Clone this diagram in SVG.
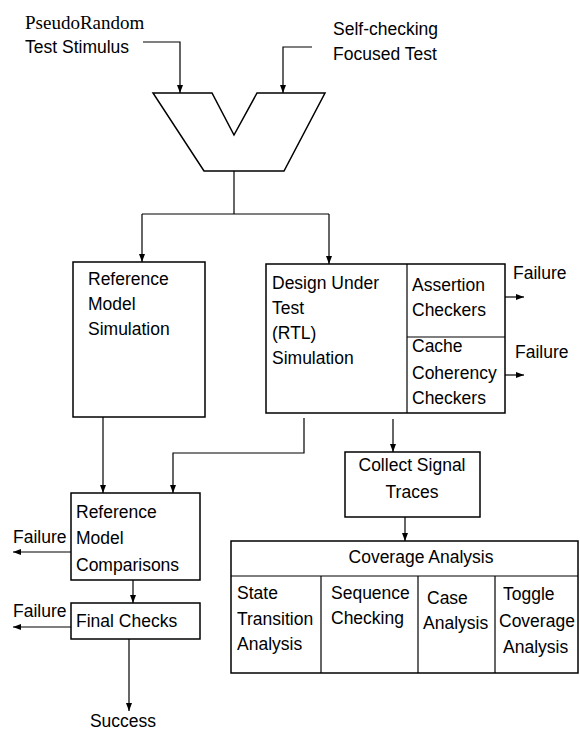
<svg xmlns="http://www.w3.org/2000/svg" width="580" height="733" viewBox="0 0 580 733">
<style>
  text { font-family: "Liberation Sans", Arial, sans-serif; font-size: 17.5px; fill: #000; }
  text.serif { font-family: "Liberation Serif", "Times New Roman", serif; font-size: 19px; }
  .box { fill: #fff; stroke: #000; stroke-width: 1.5; }
  .ln { fill: none; stroke: #000; stroke-width: 1.2; }
  .arr { fill: none; stroke: #000; stroke-width: 1.2; marker-end: url(#ah); }
</style>
<defs>
  <marker id="ah" markerUnits="userSpaceOnUse" markerWidth="9" markerHeight="7" refX="8" refY="3" orient="auto">
    <path d="M0,0 L8,3 L0,6 z" fill="#000"/>
  </marker>
</defs>
<rect width="580" height="733" fill="#fff"/>

<g id="connectors">
  <polyline class="arr" points="143,42 180,42 180,93"/>
  <polyline class="arr" points="312,47 283,47 283,93"/>
  <line class="ln" x1="234" y1="171" x2="234" y2="214"/>
  <polyline class="arr" points="142,214 142,262"/>
  <line class="ln" x1="142" y1="214" x2="329" y2="214"/>
  <line class="arr" x1="329" y1="214" x2="329" y2="264"/>
  <line class="arr" x1="505" y1="297" x2="524" y2="297"/>
  <line class="arr" x1="505" y1="375" x2="524" y2="375"/>
  <line class="arr" x1="103" y1="417" x2="103" y2="493"/>
  <polyline class="arr" points="304,418 304,453 173,453 173,493"/>
  <line class="arr" x1="393" y1="419" x2="393" y2="452"/>
  <line class="arr" x1="405" y1="517" x2="405" y2="541"/>
  <line class="arr" x1="71" y1="552" x2="13" y2="552"/>
  <line class="arr" x1="133" y1="580" x2="133" y2="603"/>
  <line class="arr" x1="71" y1="627" x2="13" y2="627"/>
  <line class="arr" x1="129" y1="639" x2="129" y2="711"/>
</g>

<g id="inputs">
  <text class="serif" x="25" y="29">PseudoRandom</text>
  <text x="25" y="53">Test Stimulus</text>
  <text x="333" y="35">Self-checking</text>
  <text x="333" y="60">Focused Test</text>
</g>

<g id="mux">
  <polygon class="box" points="153,93 212,93 234,135 257,93 325,93 284,171 204,171"/>
</g>

<g id="ref-model-sim">
  <rect class="box" x="73" y="262" width="132" height="155"/>
  <text x="88" y="285">Reference</text>
  <text x="88" y="310">Model</text>
  <text x="88" y="335">Simulation</text>
</g>

<g id="dut">
  <rect class="box" x="266" y="264" width="239" height="149"/>
  <line class="ln" x1="407" y1="264" x2="407" y2="413"/>
  <line class="ln" x1="407" y1="337" x2="505" y2="337"/>
  <text x="272" y="289">Design Under</text>
  <text x="272" y="314">Test</text>
  <text x="272" y="339">(RTL)</text>
  <text x="272" y="364">Simulation</text>
  <text x="412" y="291">Assertion</text>
  <text x="412" y="316">Checkers</text>
  <text x="412" y="352">Cache</text>
  <text x="412" y="379">Coherency</text>
  <text x="412" y="404">Checkers</text>
</g>

<g id="failure-labels-right">
  <text x="513" y="279">Failure</text>
  <text x="515" y="358">Failure</text>
</g>

<g id="collect-traces">
  <rect class="box" x="345" y="452" width="135" height="65"/>
  <text x="412" y="471" text-anchor="middle">Collect Signal</text>
  <text x="412" y="498" text-anchor="middle">Traces</text>
</g>

<g id="coverage">
  <rect class="box" x="231" y="541" width="347" height="132"/>
  <line class="ln" x1="231" y1="576" x2="578" y2="576"/>
  <line class="ln" x1="321" y1="576" x2="321" y2="673"/>
  <line class="ln" x1="418" y1="576" x2="418" y2="673"/>
  <line class="ln" x1="495" y1="576" x2="495" y2="673"/>
  <text x="421" y="563" text-anchor="middle">Coverage Analysis</text>
  <text x="237" y="599">State</text>
  <text x="237" y="625">Transition</text>
  <text x="237" y="650">Analysis</text>
  <text x="331" y="599">Sequence</text>
  <text x="331" y="624">Checking</text>
  <text x="427" y="604">Case</text>
  <text x="423" y="629">Analysis</text>
  <text x="503" y="600">Toggle</text>
  <text x="499" y="627">Coverage</text>
  <text x="503" y="653">Analysis</text>
</g>

<g id="ref-model-comp">
  <rect class="box" x="71" y="493" width="129" height="87"/>
  <text x="76" y="518">Reference</text>
  <text x="76" y="544">Model</text>
  <text x="76" y="571">Comparisons</text>
  <text x="13" y="543">Failure</text>
</g>

<g id="final-checks">
  <rect class="box" x="71" y="603" width="129" height="36"/>
  <text x="76" y="627">Final Checks</text>
  <text x="13" y="617">Failure</text>
</g>

<g id="success">
  <text x="123" y="727" text-anchor="middle">Success</text>
</g>
</svg>
